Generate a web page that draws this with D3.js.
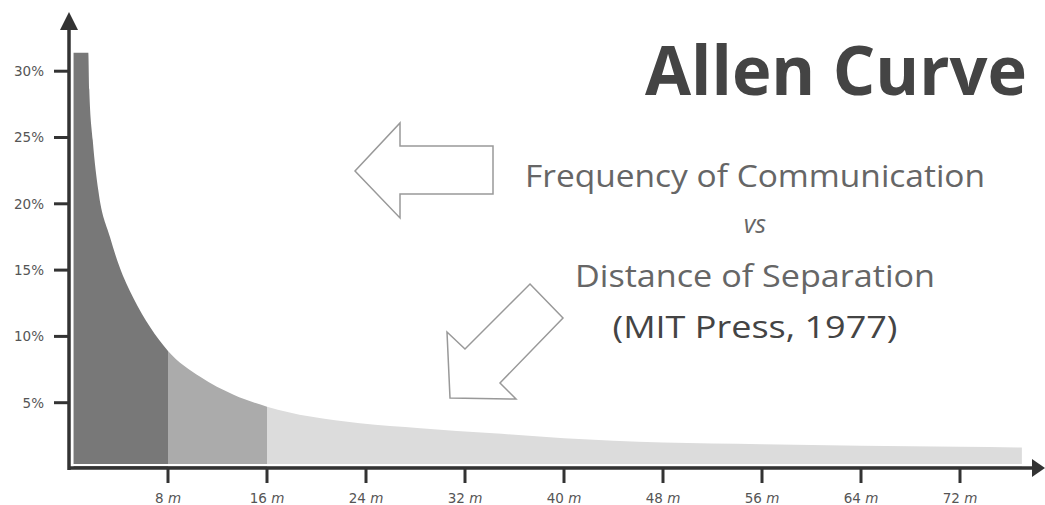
<!DOCTYPE html>
<html>
<head>
<meta charset="utf-8">
<script src="https://cdn.jsdelivr.net/npm/d3@7"></script>
<style>
  html, body { margin: 0; padding: 0; background: #fff; }
  svg { display: block; }
</style>
</head>
<body>
<svg id="chart" width="1045" height="505"></svg>
<script>
// distance of separation (m) and frequency of communication (%)
const distances = [0.35, 1.56, 1.64, 1.92, 2.37, 3.31, 4.06, 5.2, 6.55, 8, 10.6, 13.3, 16, 19.5, 23.5, 28.4, 34.3, 40, 48, 56, 64, 72, 77];
const frequency = [31.4, 31.4, 28.6, 24.8, 21.0, 17.5, 15.3, 12.9, 10.7, 8.9, 6.95, 5.6, 4.7, 3.95, 3.45, 3.08, 2.69, 2.32, 2.0, 1.87, 1.76, 1.67, 1.62];
const bandEdges = [0.35, 8, 16, 77];
const yTicks = [5, 10, 15, 20, 25, 30];
const xTicks = [8, 16, 24, 32, 40, 48, 56, 64, 72];
const title = "Allen Curve";
const subtitle = ["Frequency of Communication", "vs", "Distance of Separation", "(MIT Press, 1977)"];

const svg = d3.select("#chart");
const bandFills = ["#787878", "#ababab", "#dcdcdc"];
const axisColor = "#333";
const labelFont = "'DejaVu Sans', Verdana, sans-serif";

const x = d3.scaleLinear().domain([0, 80]).range([69, 1059]);
const y = d3.scaleLinear().domain([0, 30]).range([469, 71.2]);

const points = distances.map((d, i) => ({ d, f: frequency[i] }));

const area = d3.area()
    .x(p => x(p.d))
    .y0(y(0))
    .y1(p => y(p.f))
    .curve(d3.curveMonotoneX);

// one continuous curve, clipped into three shaded bands
const defs = svg.append("defs");
bandFills.forEach((fill, i) => {
    defs.append("clipPath").attr("id", "band" + i)
        .append("rect")
        .attr("x", x(bandEdges[i]))
        .attr("width", x(bandEdges[i + 1]) - x(bandEdges[i]))
        .attr("y", 0).attr("height", 505);
    svg.append("path")
        .datum(points)
        .attr("d", area)
        .attr("clip-path", `url(#band${i})`)
        .attr("fill", fill);
});

// thin white gap above the x axis
svg.append("line")
    .attr("x1", x(0)).attr("x2", x(80))
    .attr("y1", 465).attr("y2", 465)
    .attr("stroke", "#fff").attr("stroke-width", 2);

// axes
const axes = svg.append("g");
axes.append("line")
    .attr("x1", x(0)).attr("x2", 1034)
    .attr("y1", 468).attr("y2", 468)
    .attr("stroke", axisColor).attr("stroke-width", 3.5);
axes.append("line")
    .attr("x1", x(0)).attr("x2", x(0))
    .attr("y1", 470).attr("y2", 29)
    .attr("stroke", axisColor).attr("stroke-width", 3.5);
axes.append("path")
    .attr("d", `M${x(0)},12 L${x(0) + 9},30 L${x(0) - 9},30 Z`)
    .attr("fill", axisColor);
axes.append("path")
    .attr("d", "M1045,468 L1032,459 L1032,477 Z")
    .attr("fill", axisColor);

// y ticks
const yt = axes.selectAll(".ytick").data(yTicks).join("g")
    .attr("class", "ytick")
    .attr("transform", d => `translate(0,${y(d)})`);
yt.append("line")
    .attr("x1", 54).attr("x2", x(0))
    .attr("stroke", axisColor).attr("stroke-width", 3);
yt.append("text")
    .attr("x", 44).attr("dy", "0.36em")
    .attr("text-anchor", "end")
    .attr("font-family", labelFont)
    .attr("font-size", 13.5)
    .attr("fill", "#555")
    .text(d => d + "%");

// x ticks
const xt = axes.selectAll(".xtick").data(xTicks).join("g")
    .attr("class", "xtick")
    .attr("transform", d => `translate(${x(d)},0)`);
xt.append("line")
    .attr("y1", 468).attr("y2", 483)
    .attr("stroke", axisColor).attr("stroke-width", 3);
const xl = xt.append("text")
    .attr("y", 503)
    .attr("text-anchor", "middle")
    .attr("font-family", labelFont)
    .attr("font-size", 13.5)
    .attr("fill", "#555");
xl.append("tspan").text(d => d + " ");
xl.append("tspan").attr("font-style", "italic").text("m");

// title
svg.append("text")
    .attr("x", 645).attr("y", 95)
    .attr("font-family", "'Open Sans', sans-serif")
    .attr("font-weight", "bold")
    .attr("font-size", 68)
    .attr("fill", "#444")
    .attr("textLength", 382)
    .attr("lengthAdjust", "spacingAndGlyphs")
    .text(title);

// subtitle block
const subStyle = [
    { y: 187, size: 31, len: 460, fill: "#666", italic: false },
    { y: 233, size: 25, len: 0, fill: "#666", italic: true },
    { y: 287, size: 31, len: 360, fill: "#666", italic: false },
    { y: 338, size: 31, len: 285, fill: "#444", italic: false }
];
subtitle.forEach((t, i) => {
    const s = subStyle[i];
    const el = svg.append("text")
        .attr("x", 755).attr("y", s.y)
        .attr("text-anchor", "middle")
        .attr("font-family", "'Open Sans', sans-serif")
        .attr("font-size", s.size)
        .attr("font-style", s.italic ? "italic" : "normal")
        .attr("fill", s.fill)
        .text(t);
    if (s.len) el.attr("textLength", s.len).attr("lengthAdjust", "spacingAndGlyphs");
});

// outline arrows
const arrowLeft = [[355, 171], [400, 123], [400, 146], [493, 146], [493, 194], [400, 194], [400, 218]];
const arrowDown = [[530, 284], [563, 318], [500, 383], [516, 399], [450, 398], [447, 332], [465, 349]];
[arrowLeft, arrowDown].forEach(pts => {
    svg.append("path")
        .attr("d", d3.line()(pts) + "Z")
        .attr("fill", "#fff")
        .attr("stroke", "#999")
        .attr("stroke-width", 1.5)
        .attr("stroke-linejoin", "miter");
});
</script>
</body>
</html>
